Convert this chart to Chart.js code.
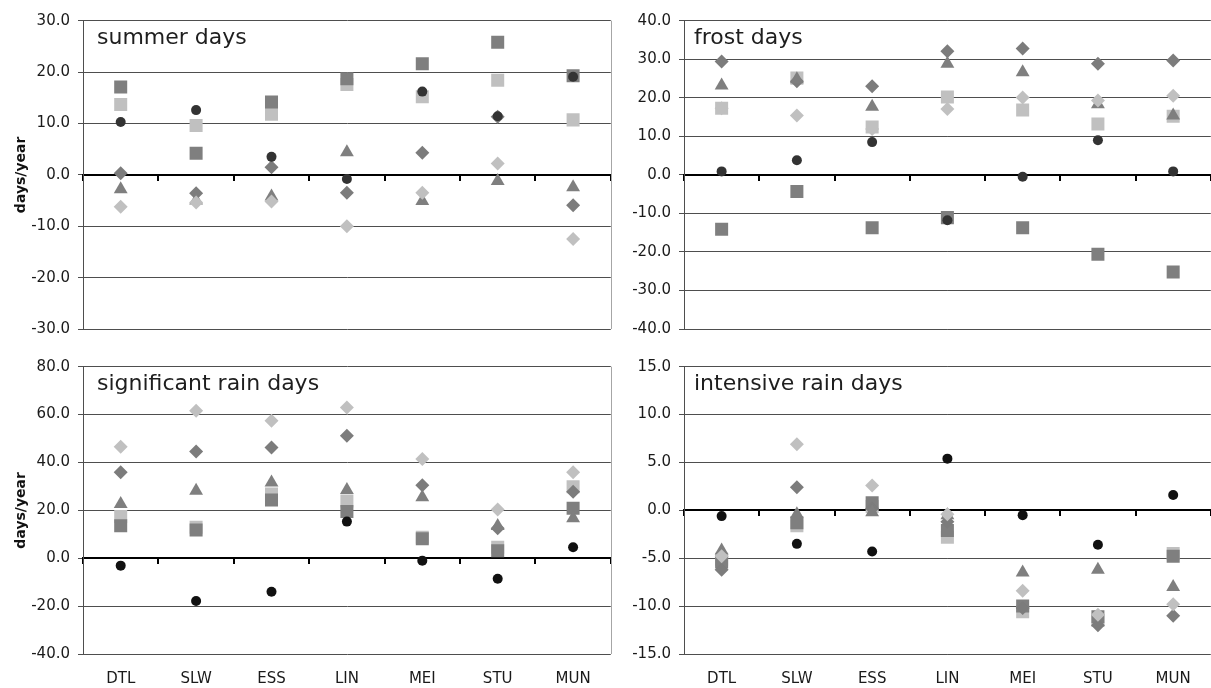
<!DOCTYPE html>
<html>
<head>
<meta charset="utf-8">
<script src="https://cdn.jsdelivr.net/npm/chart.js@4.4.1/dist/chart.umd.min.js"></script>
<style>
  html, body { margin: 0; padding: 0; width: 1211px; height: 688px; overflow: hidden; background: #ffffff; }
  .panel { position: absolute; }
  canvas { display: block; }
</style>
</head>
<body>
<div class="panel" style="left:0px;top:0px;"><canvas id="cSummer" width="620" height="346"></canvas></div>
<div class="panel" style="left:620px;top:0px;"><canvas id="cFrost" width="600" height="346"></canvas></div>
<div class="panel" style="left:0px;top:340px;"><canvas id="cSigRain" width="620" height="348"></canvas></div>
<div class="panel" style="left:620px;top:340px;"><canvas id="cIntRain" width="600" height="348"></canvas></div>
<script>
// ---------------- DATA ----------------
const categories = ['DTL', 'SLW', 'ESS', 'LIN', 'MEI', 'STU', 'MUN'];

const summerDarkSquare   = [17.1, 4.2, 14.2, 18.7, 21.6, 25.8, 19.3];
const summerLightSquare  = [13.7, 9.6, 11.8, 17.6, 15.2, 18.4, 10.7];
const summerCircle       = [10.3, 12.6, 3.5, -0.8, 16.2, 11.4, 19.1];
const summerTriangle     = [-2.8, -5.0, -4.2, 4.4, -5.1, -1.2, -2.4];
const summerDarkDiamond  = [0.3, -3.6, 1.5, -3.5, 4.3, 11.3, -5.9];
const summerLightDiamond = [-6.2, -5.4, -5.2, -10.0, -3.5, 2.2, -12.5];

const frostDarkSquare   = [-14.1, -4.3, -13.7, -11.1, -13.7, -20.6, -25.2];
const frostLightSquare  = [17.3, 25.1, 12.4, 20.2, 16.8, 13.2, 15.2];
const frostCircle       = [0.9, 3.8, 8.5, -11.8, -0.5, 9.0, 0.9];
const frostTriangle     = [23.2, 24.8, 17.7, 28.8, 26.6, 18.3, 15.4];
const frostDarkDiamond  = [29.4, 24.3, 23.0, 32.1, 32.8, 28.8, 29.7];
const frostLightDiamond = [17.3, 15.4, 11.9, 17.1, 20.1, 19.3, 20.5];

const sigRainDarkSquare   = [13.6, 11.8, 24.3, 19.5, 8.1, 3.1, 20.9];
const sigRainLightSquare  = [17.4, 12.9, 26.8, 23.9, 8.8, 4.6, 29.9];
const sigRainCircle       = [-3.1, -17.9, -14.0, 15.3, -1.0, -8.6, 4.6];
const sigRainTriangle     = [22.7, 28.2, 31.6, 28.5, 25.5, 13.5, 16.7];
const sigRainDarkDiamond  = [35.9, 44.6, 46.3, 51.2, 30.5, 12.5, 27.8];
const sigRainLightDiamond = [46.6, 61.6, 57.4, 63.0, 41.4, 20.4, 35.9];

const intRainDarkSquare   = [-5.4, -1.3, 0.8, -2.1, -10.0, -11.1, -4.8];
const intRainLightSquare  = [-5.1, -1.6, 0.4, -2.8, -10.6, -11.5, -4.5];
const intRainCircle       = [-0.6, -3.5, -4.3, 5.4, -0.5, -3.6, 1.6];
const intRainTriangle     = [-4.2, -0.4, -0.2, -0.5, -6.5, -6.2, -8.0];
const intRainDarkDiamond  = [-6.2, 2.4, 0.2, -1.2, -10.2, -12.0, -11.0];
const intRainLightDiamond = [-4.8, 6.9, 2.6, -0.4, -8.4, -10.9, -9.8];

const summerTicks  = { min: -30, max: 30, step: 10 };
const frostTicks   = { min: -40, max: 40, step: 10 };
const sigRainTicks = { min: -40, max: 80, step: 20 };
const intRainTicks = { min: -15, max: 15, step: 5 };

// ---------------- STYLE / BUILD ----------------
Chart.defaults.font.family = '"DejaVu Sans", "Liberation Sans", Arial, sans-serif';

const TEXT = '#1a1a1a';
const GRID = '#4e4e4e';

function ds(label, data, style, radius, color) {
  return {
    label: label, data: data, showLine: false,
    pointStyle: style, pointRadius: radius, pointHoverRadius: radius,
    pointBackgroundColor: color, pointBorderWidth: 0,
    borderColor: color, backgroundColor: color
  };
}

function buildDatasets(s, circleColor) {
  // first dataset is drawn on top
  return [
    ds('circle', s.circle, 'circle', 5, circleColor),
    ds('light diamond', s.lightDiamond, 'rectRot', 7, '#c0c0c0'),
    ds('triangle', s.triangle, 'triangle', 8, '#7f7f7f'),
    ds('dark diamond', s.darkDiamond, 'rectRot', 7, '#7c7c7c'),
    ds('dark square', s.darkSquare, 'rect', 9.2, '#7f7f7f'),
    ds('light square', s.lightSquare, 'rect', 9.2, '#c0c0c0')
  ];
}

const panelTitlePlugin = {
  id: 'panelTitle',
  afterDatasetsDraw(chart, args, opts) {
    const ctx = chart.ctx, a = chart.chartArea;
    ctx.save();
    ctx.font = '22px "DejaVu Sans", "Liberation Sans", sans-serif';
    ctx.fillStyle = '#1e1e1e';
    ctx.textAlign = 'left';
    ctx.textBaseline = 'alphabetic';
    ctx.fillText(opts.text, a.left + opts.dx, a.top + 23.3);
    ctx.restore();
  }
};

const rightBorderPlugin = {
  id: 'rightBorder',
  beforeDatasetsDraw(chart) {
    const ctx = chart.ctx, a = chart.chartArea;
    ctx.save();
    ctx.strokeStyle = '#a6a6a6';
    ctx.lineWidth = 1;
    ctx.beginPath();
    ctx.moveTo(Math.round(a.right) + 0.5, a.top);
    ctx.lineTo(Math.round(a.right) + 0.5, a.bottom);
    ctx.stroke();
    ctx.restore();
  }
};

function makeChart(id, p) {
  const ctx = document.getElementById(id);
  return new Chart(ctx, {
    type: 'line',
    data: { labels: categories, datasets: buildDatasets(p.series, p.circleColor) },
    options: {
      responsive: false, animation: false, devicePixelRatio: 1,
      layout: { padding: { left: 0, top: p.padTop, right: p.padRight, bottom: p.padBottom } },
      plugins: {
        legend: { display: false }, tooltip: { enabled: false }, title: { display: false },
        panelTitle: { text: p.title, dx: p.titleDx }
      },
      scales: {
        x: {
          type: 'category', offset: true, display: p.showX,
          grid: { display: false, drawTicks: false },
          border: { display: false },
          ticks: { font: { size: 15 }, color: TEXT, padding: 16, maxRotation: 0, autoSkip: false },
          afterFit: (s) => { s.height = p.xHeight; }
        },
        x2: {
          type: 'category', axis: 'x', labels: categories,
          min: categories[0], max: categories[categories.length - 1],
          position: { y: 0 }, offset: true,
          grid: { offset: true, drawOnChartArea: false, drawTicks: true, tickLength: 5, color: '#000000', lineWidth: 2 },
          border: { display: true, color: '#000000', width: 2 },
          ticks: { display: false }
        },
        y: {
          type: 'linear', min: p.ticks.min, max: p.ticks.max,
          ticks: { stepSize: p.ticks.step, callback: (v) => Number(v).toFixed(1), font: { size: 15 }, color: TEXT, padding: 8 },
          grid: {
            color: (c) => (c.tick && c.tick.value === 0) ? 'rgba(0,0,0,0)' : GRID,
            tickColor: GRID, lineWidth: 1, tickLength: 5
          },
          border: { color: GRID, width: 1 },
          title: {
            display: p.yTitle, text: 'days/year', color: '#111111',
            font: { size: 14, weight: 'bold' }, padding: { top: 13, bottom: 0 }
          },
          afterFit: (s) => { s.width = p.yWidth; }
        }
      }
    },
    plugins: [rightBorderPlugin, panelTitlePlugin]
  });
}

makeChart('cSummer', {
  series: { darkSquare: summerDarkSquare, lightSquare: summerLightSquare, circle: summerCircle,
            triangle: summerTriangle, darkDiamond: summerDarkDiamond, lightDiamond: summerLightDiamond },
  circleColor: '#333333', ticks: summerTicks, title: 'summer days', titleDx: 14,
  padTop: 20.7, padRight: 7, padBottom: 13, showX: false, xHeight: 0, yWidth: 83, yTitle: true
});
makeChart('cFrost', {
  series: { darkSquare: frostDarkSquare, lightSquare: frostLightSquare, circle: frostCircle,
            triangle: frostTriangle, darkDiamond: frostDarkDiamond, lightDiamond: frostLightDiamond },
  circleColor: '#333333', ticks: frostTicks, title: 'frost days', titleDx: 10,
  padTop: 20.7, padRight: 6, padBottom: 13, showX: false, xHeight: 0, yWidth: 64, yTitle: false
});
makeChart('cSigRain', {
  series: { darkSquare: sigRainDarkSquare, lightSquare: sigRainLightSquare, circle: sigRainCircle,
            triangle: sigRainTriangle, darkDiamond: sigRainDarkDiamond, lightDiamond: sigRainLightDiamond },
  circleColor: '#111111', ticks: sigRainTicks, title: 'significant rain days', titleDx: 14,
  padTop: 26.7, padRight: 7, padBottom: 0, showX: true, xHeight: 34, yWidth: 83, yTitle: true
});
makeChart('cIntRain', {
  series: { darkSquare: intRainDarkSquare, lightSquare: intRainLightSquare, circle: intRainCircle,
            triangle: intRainTriangle, darkDiamond: intRainDarkDiamond, lightDiamond: intRainLightDiamond },
  circleColor: '#111111', ticks: intRainTicks, title: 'intensive rain days', titleDx: 10,
  padTop: 26.7, padRight: 6, padBottom: 0, showX: true, xHeight: 34, yWidth: 64, yTitle: false
});
</script>
</body>
</html>
